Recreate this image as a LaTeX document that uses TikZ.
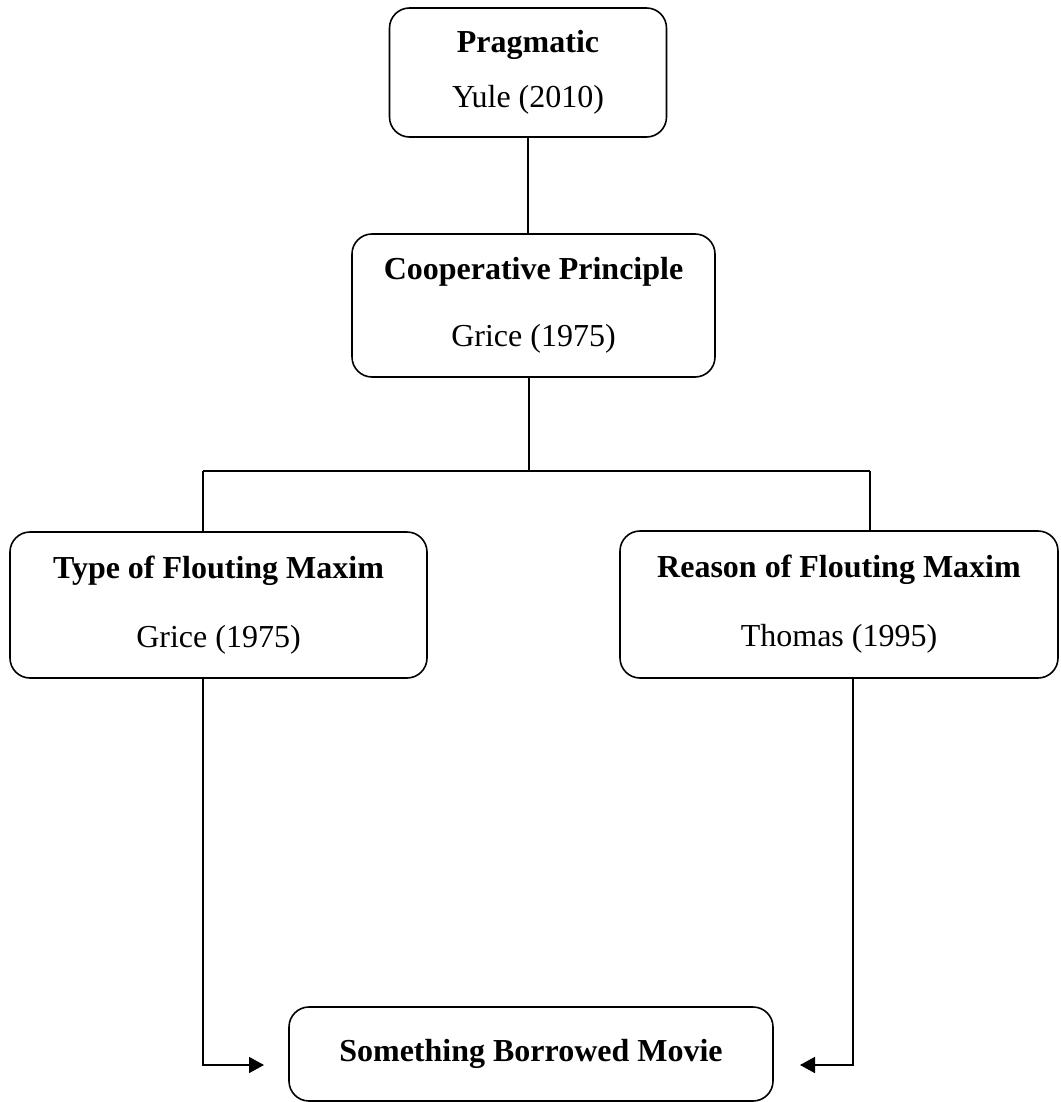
\documentclass[tikz,border=0pt]{standalone}
\usepackage{fontspec}
\setmainfont{Liberation Serif}
\usetikzlibrary{arrows.meta}
\begin{document}
\begin{tikzpicture}[x=1pt,y=-1pt,
  box/.style={draw=black, line width=1.6pt, rounded corners=20pt, align=center,
    font=\fontsize{32}{38}\selectfont, inner sep=0pt},
  conn/.style={draw=black, line width=1.6pt},
  arr/.style={conn, -{Triangle[length=15pt,width=16pt]}}]
\useasboundingbox (0,0) rectangle (1060,1102);
\node[box, minimum width=277pt, minimum height=129pt] (prag) at (528,72.5)
  {\textbf{Pragmatic}\\[17pt]Yule (2010)};
\node[box, minimum width=363pt, minimum height=143pt] (coop) at (533.5,305.5)
  {\textbf{Cooperative Principle}\\[29pt]Grice (1975)};
\node[box, minimum width=417pt, minimum height=146pt] (type) at (218.5,605)
  {\textbf{Type of Flouting Maxim}\\[31pt]Grice (1975)};
\node[box, minimum width=438pt, minimum height=147pt] (reason) at (839,604.5)
  {\textbf{Reason of Flouting Maxim}\\[31pt]Thomas (1995)};
\node[box, minimum width=484pt, minimum height=94pt] (movie) at (531,1054)
  {\textbf{Something Borrowed Movie}};
\coordinate (bl) at (203,471);
\coordinate (br) at (870,471);
\coordinate (jc) at (529,471);
\coordinate (ld) at (203,678);
\coordinate (rd) at (853,678);
\coordinate (lt) at (264,1065);
\coordinate (rt) at (800,1065);
\draw[conn] (prag.south) -- (prag.south |- coop.north);
\draw[conn] (jc |- coop.south) -- (jc);
\draw[conn] (bl) -- (br);
\draw[conn] (bl) -- (bl |- type.north);
\draw[conn] (br) -- (br |- reason.north);
\draw[arr] (ld |- type.south) |- (lt);
\draw[arr] (rd |- reason.south) |- (rt);
\end{tikzpicture}
\end{document}
